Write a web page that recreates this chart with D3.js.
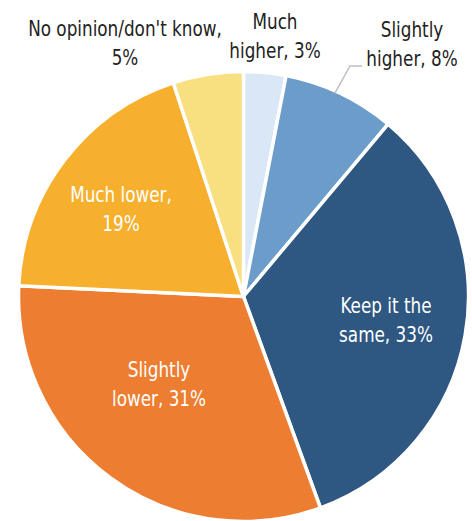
<!DOCTYPE html>
<html><head><meta charset="utf-8">
<script src="https://cdn.jsdelivr.net/npm/d3@7"></script>
<style>
html,body{margin:0;padding:0;background:#fff;}
svg{display:block;}
text{font-family:"Liberation Sans Narrow","DejaVu Sans Condensed","Arial Narrow",sans-serif;font-size:22px;}
</style></head><body>
<svg id="chart" width="472" height="521"></svg>
<script>
const categories = ["Much higher", "Slightly higher", "Keep it the same", "Slightly lower", "Much lower", "No opinion/don't know"];
const values = [3, 8, 33, 31, 19, 5];
const labelLines = [["Much", "higher, 3%"], ["Slightly", "higher, 8%"], ["Keep it the", "same, 33%"], ["Slightly", "lower, 31%"], ["Much lower,", "19%"], ["No opinion/don't know,", "5%"]];
const colors = ["#dae7f7", "#6b9cca", "#2e5781", "#ed7d31", "#f6b02e", "#f8df7f"];

const W = 472, H = 521;
const cx = 243.5, cy = 296.5, R = 225;
const svg = d3.select("#chart");
const g = svg.append("g").attr("transform", `translate(${cx},${cy})`);

const pie = d3.pie().sort(null).value(d => d.v).startAngle(0).endAngle(2 * Math.PI);
const data = categories.map((c, i) => ({c, v: values[i], lines: labelLines[i], color: colors[i]}));
const arcs = pie(data);
const arc = d3.arc().innerRadius(0).outerRadius(R);

g.selectAll("path.slice").data(arcs).join("path")
  .attr("class", "slice")
  .attr("d", arc)
  .attr("fill", d => d.data.color)
  .attr("stroke", "#fff")
  .attr("stroke-width", 3.5)
  .attr("stroke-linejoin", "round");

// label layout (relative to centre): x centre, y of first baseline
const layout = [
  {x: 31.5, y: -267.5, inside: false},
  {x: 168.5, y: -259.5, inside: false},
  {x: 142.5, y: 16.5, inside: true},
  {x: -84.5, y: 80.5, inside: true},
  {x: -122.5, y: -94.5, inside: true},
  {x: -118.5, y: -260.5, inside: false}
];
const lineH = 29;
const squeeze = 0.85;

const labels = g.selectAll("text.lab").data(arcs).join("text")
  .attr("class", "lab")
  .attr("text-anchor", "middle")
  .attr("transform", (d, i) => `translate(${layout[i].x},${layout[i].y}) scale(${squeeze},1)`)
  .attr("fill", (d, i) => layout[i].inside ? "#ffffff" : "#222222");
labels.each(function(d, i) {
  const t = d3.select(this);
  d.data.lines.forEach((ln, j) => {
    t.append("tspan").attr("x", 0).attr("y", j * lineH).text(ln);
  });
});

// leader line for "Slightly higher"
const a1 = arcs[1];
const mid = (a1.startAngle + a1.endAngle) / 2;
const p0 = [Math.sin(mid) * R * 0.985 - 6, -Math.cos(mid) * R * 0.985 + 5];
g.append("polyline")
  .attr("points", [[p0[0] + 2, p0[1] - 8], [106.5, -230.5], [118.5, -230.5]].map(p => p.join(",")).join(" "))
  .attr("fill", "none").attr("stroke", "#bfbfbf").attr("stroke-width", 1.5);
</script>
</body></html>
